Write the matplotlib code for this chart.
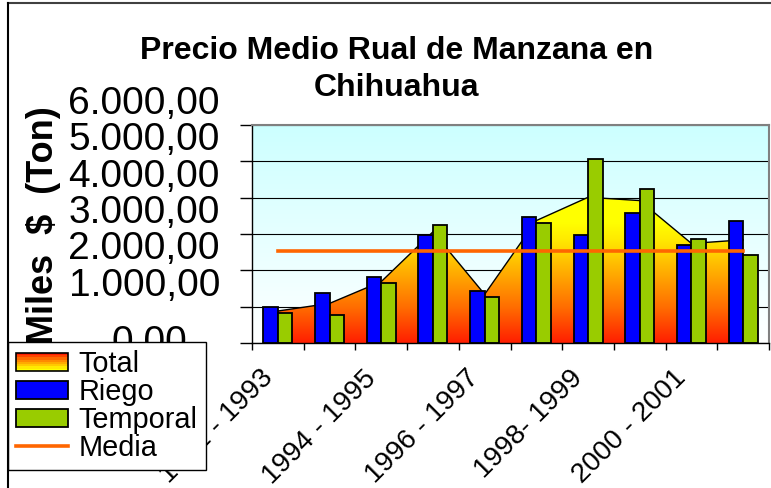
import numpy as np
import matplotlib
matplotlib.use('Agg')
import matplotlib.pyplot as plt
import matplotlib.transforms as mtransforms
from matplotlib.colors import LinearSegmentedColormap
from matplotlib.patches import Rectangle
from matplotlib.lines import Line2D
from matplotlib.legend_handler import HandlerBase

plt.rcParams['font.family'] = ['Liberation Sans', 'DejaVu Sans']

# datos (miles de $ por tonelada)
periodos = ['1992 - 1993', '1993 - 1994', '1994 - 1995', '1995 - 1996', '1996 - 1997',
            '1997 - 1998', '1998- 1999', '1999 - 2000', '2000 - 2001', '2001 - 2002']
riego = [980, 1380, 1820, 2970, 1430, 3470, 2970, 3580, 2700, 3360]
temporal = [830, 770, 1650, 3250, 1270, 3300, 5070, 4240, 2860, 2420]
total = [880, 1090, 1690, 3060, 1340, 3370, 4010, 3920, 2740, 2840]
media = [2540, 2540, 2540, 2540, 2540, 2540, 2540, 2540, 2540, 2540]
y_ticks = [0, 1000, 2000, 3000, 4000, 5000, 6000]
y_labels = ['0,00', '1.000,00', '2.000,00', '3.000,00', '4.000,00', '5.000,00', '6.000,00']

AZUL = '#0000ff'
VERDE = '#99cc00'
NARANJA = '#ff6600'

cmap_area = LinearSegmentedColormap.from_list(
    'area', [(0, '#ff1e00'), (0.3, '#ff6e00'), (0.6, '#ffb000'), (0.85, '#ffe800'), (1, '#ffff00')])
cmap_fondo = LinearSegmentedColormap.from_list('fondo', ['#ffffff', '#ccffff'])


class GradientHandler(HandlerBase):
    # cuadrito degradado para "Total" en la leyenda
    def create_artists(self, legend, orig_handle, xdescent, ydescent, width, height, fontsize, trans):
        n = 8
        arts = []
        for i in range(n):
            r = Rectangle((-xdescent, -ydescent + i * height / n), width, height / n,
                          facecolor=cmap_area(1 - i / (n - 1)), edgecolor='none', transform=trans)
            arts.append(r)
        borde = Rectangle((-xdescent, -ydescent), width, height, facecolor='none',
                          edgecolor='black', linewidth=1.2, transform=trans)
        arts.append(borde)
        return arts


fig = plt.figure(figsize=(7.71, 4.88), dpi=100)
ax = fig.add_axes([252 / 771, 1 - 343 / 488, 517 / 771, 218 / 488])
x = np.arange(len(periodos))

# fondo del area de trazado
ax.imshow(np.linspace(0, 1, 256).reshape(-1, 1), extent=[-0.5, 9.5, 0, 6000], origin='lower',
          aspect='auto', cmap=cmap_fondo, zorder=0)

# area Total con degradado
area = ax.fill_between(x, 0, total, facecolor='none', edgecolor='none', zorder=1, label='Total')
grad = ax.imshow(np.linspace(0, 6000, 600).reshape(-1, 1), extent=[-0.5, 9.5, 0, 6000], origin='lower',
                 aspect='auto', cmap=cmap_area, vmin=0, vmax=3300, zorder=1)
grad.set_clip_path(area.get_paths()[0], ax.transData)
ax.plot(x, total, color='black', lw=1, zorder=1.5)

w = 0.28
ax.bar(x - w / 2, riego, w, color=AZUL, edgecolor='black', linewidth=1.3, zorder=2, label='Riego')
ax.bar(x + w / 2, temporal, w, color=VERDE, edgecolor='black', linewidth=1.3, zorder=2, label='Temporal')
ax.plot(x, media, color=NARANJA, lw=2.6, zorder=3, label='Media')

ax.set_xlim(-0.5, 9.5)
ax.set_ylim(0, 6000)
ax.set_axisbelow(True)
ax.set_yticks(y_ticks)
ax.yaxis.grid(True, color='black', linewidth=0.8)
ax.tick_params(axis='y', direction='out', length=8.6, width=1, labelleft=False)

ax.set_xticks(x)
ax.set_xticklabels([p if i % 2 == 0 else '' for i, p in enumerate(periodos)],
                   rotation=45, ha='right', va='top', fontsize=20)
ax.tick_params(axis='x', which='major', length=0, pad=16)
ax.set_xticks(np.arange(-0.5, 10, 1), minor=True)
ax.tick_params(axis='x', which='minor', direction='out', length=5, width=1)

for s in ['left', 'bottom']:
    ax.spines[s].set_color('black')
    ax.spines[s].set_linewidth(1)
for s in ['top', 'right']:
    ax.spines[s].set_color('#808080')
    ax.spines[s].set_linewidth(1.5)

# etiquetas del eje y (desplazadas como en el original)
trans_lab = mtransforms.offset_copy(ax.get_yaxis_transform(), fig=fig, x=0, y=21, units='dots')
for v, lab in zip(y_ticks[1:], y_labels[1:]):
    ax.text(-0.062, v, lab, transform=trans_lab, ha='right', va='center', fontsize=28)
ax.text(-0.1257, y_ticks[0], y_labels[0], transform=ax.get_yaxis_transform(),
        ha='right', va='center', fontsize=28)

ax.set_ylabel('Miles  $  (Ton)', fontsize=26, fontweight='bold')
ax.yaxis.set_label_coords(-0.37, 0.54)

ax.set_title('Precio Medio Rual de Manzana en\nChihuahua', fontsize=23, fontweight='bold',
             x=0.28, pad=21, linespacing=1.3)

handles, labels = ax.get_legend_handles_labels()
orden = [labels.index(n) for n in ['Total', 'Riego', 'Temporal', 'Media']]
leg = ax.legend([handles[i] for i in orden], [labels[i] for i in orden],
                handler_map={area: GradientHandler()},
                loc='upper left', bbox_to_anchor=(8 / 771, 1 - 342 / 488), bbox_transform=fig.transFigure,
                frameon=True, fancybox=False, edgecolor='black', framealpha=1, fontsize=20.8,
                borderpad=0.28, labelspacing=0.0, handlelength=1.8, handleheight=0.58,
                handletextpad=0.37, borderaxespad=0)
leg.get_frame().set_linewidth(1)
leg.set_zorder(10)

# borde del area del grafico
fig.add_artist(Line2D([8 / 771, 1], [1 - 3 / 488, 1 - 3 / 488], transform=fig.transFigure,
                      color='#404040', lw=1.5))
fig.add_artist(Line2D([8 / 771, 8 / 771], [0, 1 - 3 / 488], transform=fig.transFigure,
                      color='black', lw=1.5))

fig.savefig('out.png', dpi=100)
